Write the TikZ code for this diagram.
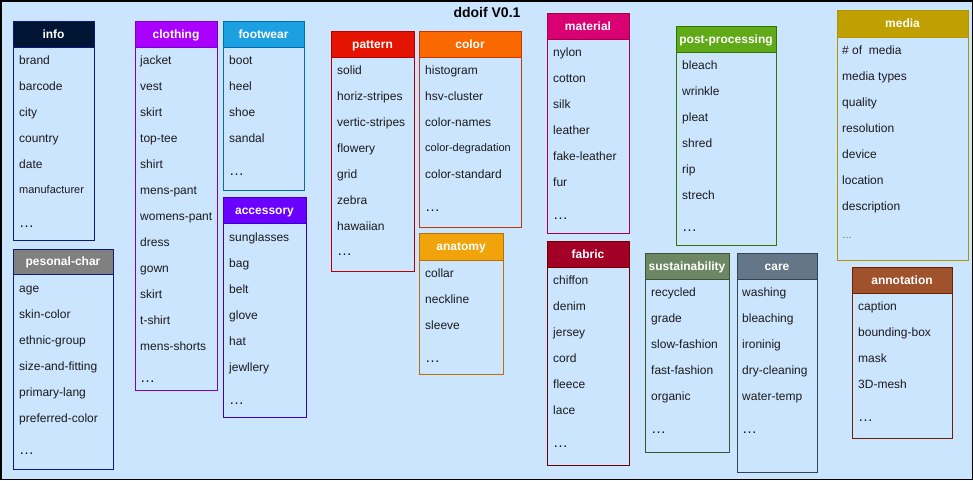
\documentclass[tikz,border=0pt]{standalone}
\usepackage{fontspec}
\setmainfont{Liberation Sans}
\definecolor{bg}{HTML}{CCE5FF}
\definecolor{txt}{HTML}{1A1A1A}
\definecolor{infoF}{HTML}{001433}\definecolor{infoS}{HTML}{0A1A80}
\definecolor{clothF}{HTML}{AA00FF}\definecolor{clothS}{HTML}{7700CC}
\definecolor{footF}{HTML}{1BA1E2}\definecolor{footS}{HTML}{006EAF}
\definecolor{accF}{HTML}{6A00FF}\definecolor{accS}{HTML}{3700CC}
\definecolor{persF}{HTML}{808080}\definecolor{persS}{HTML}{0A1A80}
\definecolor{pattF}{HTML}{E51400}\definecolor{pattS}{HTML}{B20000}
\definecolor{colF}{HTML}{FA6800}\definecolor{colS}{HTML}{C73500}
\definecolor{anatF}{HTML}{F0A30A}\definecolor{anatS}{HTML}{BD7000}
\definecolor{matF}{HTML}{D80073}\definecolor{matS}{HTML}{A50040}
\definecolor{fabF}{HTML}{A20025}\definecolor{fabS}{HTML}{6F0000}
\definecolor{postF}{HTML}{60A917}\definecolor{postS}{HTML}{2D7600}
\definecolor{mediaF}{HTML}{BFA000}\definecolor{mediaS}{HTML}{B09500}
\definecolor{sustF}{HTML}{6D8764}\definecolor{sustS}{HTML}{3A5431}
\definecolor{careF}{HTML}{647687}\definecolor{careS}{HTML}{314354}
\definecolor{annoF}{HTML}{A0522D}\definecolor{annoS}{HTML}{6D1F00}
\begin{document}
\begin{tikzpicture}[x=1pt,y=-1pt,
   box/.style={line width=1pt},
   head/.style={anchor=base,inner sep=0pt,text=white,font=\bfseries\fontsize{12}{14}\selectfont},
   item/.style={anchor=base west,inner sep=0pt,text=txt,font=\fontsize{12}{14}\selectfont},
   small/.style={item,font=\fontsize{11}{13}\selectfont},
   more/.style={item,font=\fontsize{15}{16}\selectfont}]
   \useasboundingbox (0,0) rectangle (973,480);
   \draw [fill=bg,line width=1.5pt] (0.75,0.75) rectangle (972.25,479.25);
   \node [head,text=black,font=\bfseries\fontsize{14}{16}\selectfont] (title) at (487,17) {ddoif V0.1};
   % info
   \draw [box,draw=infoS] (13,21) rectangle (94,240);
   \draw [box,draw=infoS,fill=infoF] (13,21) rectangle (94,47);
   \node [head] (info) at (53.5,38) {info};
   \foreach \t [count=\i] in {brand,barcode,city,country,date}
      \node [item] (info\i) at (19,{64+26*(\i-1)}) {\t};
   \node [small] (info6) at (19,193) {manufacturer};
   \node [more] (info7) at (19,227) {…};
   % clothing
   \draw [box,draw=clothS] (135,21) rectangle (217,390);
   \draw [box,draw=clothS,fill=clothF] (135,21) rectangle (217,47);
   \node [head] (cloth) at (176,38) {clothing};
   \foreach \t [count=\i] in {jacket,vest,skirt,top-tee,shirt,mens-pant,womens-pant,dress,gown,skirt,t-shirt,mens-shorts}
      \node [item] (cloth\i) at (140,{64+26*(\i-1)}) {\t};
   \node [more] (cloth13) at (140,382.5) {…};
   % footwear
   \draw [box,draw=footS] (223,21) rectangle (304,190);
   \draw [box,draw=footS,fill=footF] (223,21) rectangle (304,47);
   \node [head] (foot) at (263.5,38) {footwear};
   \foreach \t [count=\i] in {boot,heel,shoe,sandal}
      \node [item] (foot\i) at (229,{64+26*(\i-1)}) {\t};
   \node [more] (foot5) at (229,175) {…};
   % accessory
   \draw [box,draw=accS] (223,197) rectangle (306,417);
   \draw [box,draw=accS,fill=accF] (223,197) rectangle (306,223);
   \node [head] (acc) at (264.5,214) {accessory};
   \foreach \t [count=\i] in {sunglasses,bag,belt,glove,hat,jewllery}
      \node [item] (acc\i) at (229,{241+26*(\i-1)}) {\t};
   \node [more] (acc7) at (229,404) {…};
   % pesonal-char
   \draw [box,draw=persS] (13,249) rectangle (113,469);
   \draw [box,draw=persS,fill=persF] (13,249) rectangle (113,274);
   \node [head] (pers) at (63,265.5) {pesonal-char};
   \foreach \t [count=\i] in {age,skin-color,ethnic-group,size-and-fitting,primary-lang,preferred-color}
      \node [item] (pers\i) at (19,{292+26*(\i-1)}) {\t};
   \node [more] (pers7) at (19,454) {…};
   % pattern
   \draw [box,draw=pattS] (331,31) rectangle (414,271);
   \draw [box,draw=pattS,fill=pattF] (331,31) rectangle (414,57);
   \node [head] (patt) at (372.5,48) {pattern};
   \foreach \t [count=\i] in {solid,horiz-stripes,vertic-stripes,flowery,grid,zebra,hawaiian}
      \node [item] (patt\i) at (337,{74+26*(\i-1)}) {\t};
   \node [more] (patt8) at (337,255) {…};
   % color
   \draw [box,draw=colS] (419,31) rectangle (521,227);
   \draw [box,draw=colS,fill=colF] (419,31) rectangle (521,57);
   \node [head] (col) at (470,48) {color};
   \foreach \t [count=\i] in {histogram,hsv-cluster,color-names}
      \node [item] (col\i) at (425,{74+26*(\i-1)}) {\t};
   \node [small] (col4) at (425,151) {color-degradation};
   \node [item] (col5) at (425,178) {color-standard};
   \node [more] (col6) at (425,211) {…};
   % anatomy
   \draw [box,draw=anatS] (419,233) rectangle (503,374);
   \draw [box,draw=anatS,fill=anatF] (419,233) rectangle (503,260);
   \node [head] (anat) at (461,250.5) {anatomy};
   \foreach \t [count=\i] in {collar,neckline,sleeve}
      \node [item] (anat\i) at (425,{277+26*(\i-1)}) {\t};
   \node [more] (anat4) at (425,362) {…};
   % material
   \draw [box,draw=matS] (547,13) rectangle (629,233);
   \draw [box,draw=matS,fill=matF] (547,13) rectangle (629,39);
   \node [head] (mat) at (588,30) {material};
   \foreach \t [count=\i] in {nylon,cotton,silk,leather,fake-leather,fur}
      \node [item] (mat\i) at (553,{56+26*(\i-1)}) {\t};
   \node [more] (mat7) at (553,219) {…};
   % fabric
   \draw [box,draw=fabS] (547,241) rectangle (629,465);
   \draw [box,draw=fabS,fill=fabF] (547,241) rectangle (629,267);
   \node [head] (fab) at (588,258) {fabric};
   \foreach \t [count=\i] in {chiffon,denim,jersey,cord,fleece,lace}
      \node [item] (fab\i) at (553,{284+26*(\i-1)}) {\t};
   \node [more] (fab7) at (553,447) {…};
   % post-processing
   \draw [box,draw=postS] (676,26) rectangle (776,245);
   \draw [box,draw=postS,fill=postF] (676,26) rectangle (776,52);
   \node [head] (post) at (726,43) {post-processing};
   \foreach \t [count=\i] in {bleach,wrinkle,pleat,shred,rip,strech}
      \node [item] (post\i) at (682,{69+26*(\i-1)}) {\t};
   \node [more] (post7) at (682,231.5) {…};
   % media
   \draw [box,draw=mediaS] (837,10) rectangle (968,260);
   \draw [box,draw=mediaS,fill=mediaF] (837,10) rectangle (968,37);
   \node [head] (media) at (902.5,27.5) {media};
   \foreach \t [count=\i] in {{\# of\ \ media},media types,quality,resolution,device,location,description}
      \node [item] (media\i) at (842,{54+26*(\i-1)}) {\t};
   \node [item,text=txt!70,font=\fontsize{10}{12}\selectfont] (media8) at (842,238) {…};
   % sustainability
   \draw [box,draw=sustS] (645,253) rectangle (729,452);
   \draw [box,draw=sustS,fill=sustF] (645,253) rectangle (729,279);
   \node [head] (sust) at (687,270) {sustainability};
   \foreach \t [count=\i] in {recycled,grade,slow-fashion,fast-fashion,organic}
      \node [item] (sust\i) at (651,{296+26*(\i-1)}) {\t};
   \node [more] (sust6) at (651,433.5) {…};
   % care
   \draw [box,draw=careS] (737,253) rectangle (817,472);
   \draw [box,draw=careS,fill=careF] (737,253) rectangle (817,279);
   \node [head] (care) at (777,270) {care};
   \foreach \t [count=\i] in {washing,bleaching,ironinig,dry-cleaning,water-temp}
      \node [item] (care\i) at (742,{296+26*(\i-1)}) {\t};
   \node [more] (care6) at (742,433.5) {…};
   % annotation
   \draw [box,draw=annoS] (852,267) rectangle (952,438);
   \draw [box,draw=annoS,fill=annoF] (852,267) rectangle (952,293);
   \node [head] (anno) at (902,284) {annotation};
   \foreach \t [count=\i] in {caption,bounding-box,mask,3D-mesh}
      \node [item] (anno\i) at (858,{310+26*(\i-1)}) {\t};
   \node [more] (anno5) at (858,421) {…};
\end{tikzpicture}
\end{document}
